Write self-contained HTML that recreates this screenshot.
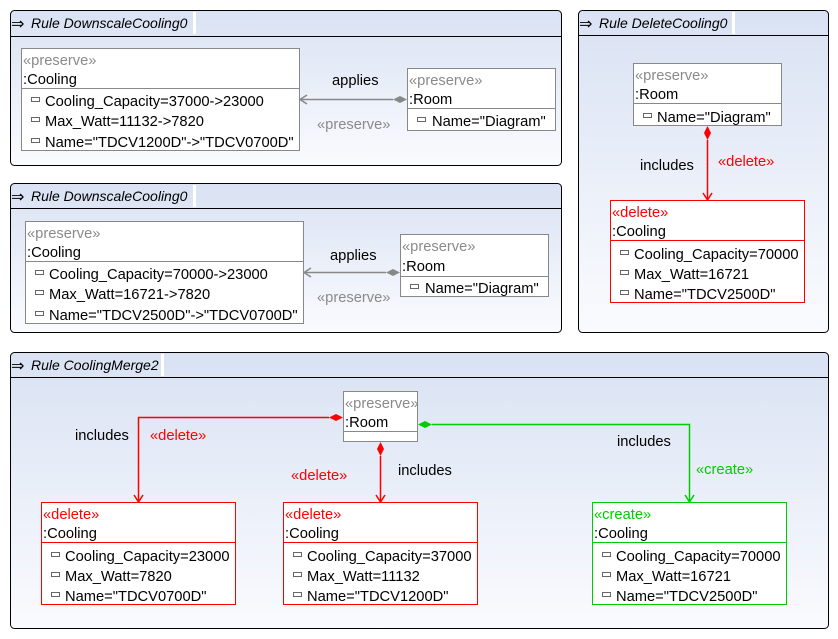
<!DOCTYPE html>
<html><head><meta charset="utf-8"><style>
html,body{margin:0;padding:0;background:#fff;width:838px;height:639px;overflow:hidden}
svg text{font-family:"Liberation Sans","DejaVu Sans",sans-serif;font-size:14.7px}
svg text.ar{font-size:16px}
svg text.t{font-size:14px;font-style:italic}
</style></head><body>
<svg width="838" height="639" viewBox="0 0 838 639" xmlns="http://www.w3.org/2000/svg">
<defs>
<linearGradient id="g" x1="0" y1="0" x2="0" y2="1">
<stop offset="0" stop-color="#d9e2f3"/><stop offset="1" stop-color="#fafbfe"/>
</linearGradient>
</defs>
<g stroke="#000" stroke-width="1">
<rect x="10.5" y="10.5" width="551" height="155" rx="4" fill="url(#g)"/>
<rect x="10.5" y="183.5" width="551" height="149" rx="4" fill="url(#g)"/>
<rect x="578.5" y="10.5" width="250" height="322" rx="4" fill="url(#g)"/>
<rect x="10.5" y="352.5" width="818" height="276" rx="4" fill="url(#g)"/>
<line x1="10" y1="36.5" x2="562" y2="36.5"/>
<line x1="10" y1="208.5" x2="562" y2="208.5"/>
<line x1="578" y1="35.5" x2="829" y2="35.5"/>
<line x1="10" y1="377.5" x2="829" y2="377.5"/>
</g>
<rect x="193" y="12" width="3" height="22" fill="#fff"/>
<rect x="193" y="185" width="3" height="22" fill="#fff"/>
<rect x="732" y="12" width="3" height="22" fill="#fff"/>
<rect x="161" y="354" width="3" height="22" fill="#fff"/>
<g fill="#000">
<text class="ar" x="11" y="29">⇒</text><text class="t" x="31" y="28">Rule DownscaleCooling0</text>
<text class="ar" x="11" y="202">⇒</text><text class="t" x="31" y="201">Rule DownscaleCooling0</text>
<text class="ar" x="579" y="29">⇒</text><text class="t" x="599" y="28">Rule DeleteCooling0</text>
<text class="ar" x="11" y="371">⇒</text><text class="t" x="31" y="370">Rule CoolingMerge2</text>
</g>

<!-- Frame1 -->
<rect x="21.5" y="48.5" width="278" height="102" fill="#fff" stroke="#888"/>
<line x1="21" y1="88.5" x2="300" y2="88.5" stroke="#888"/>
<text x="23" y="65" fill="#8a8a8a">«preserve»</text>
<text x="23" y="84">:Cooling</text>
<g fill="none" stroke="#666"><rect x="31.5" y="97.5" width="8" height="4"/><rect x="31.5" y="117.5" width="8" height="4"/><rect x="31.5" y="138.5" width="8" height="4"/></g>
<text x="45" y="106">Cooling_Capacity=37000-&gt;23000</text>
<text x="45" y="126">Max_Watt=11132-&gt;7820</text>
<text x="45" y="147">Name="TDCV1200D"-&gt;"TDCV0700D"</text>
<rect x="407.5" y="68.5" width="148" height="62" fill="#fff" stroke="#888"/>
<line x1="407" y1="108.5" x2="556" y2="108.5" stroke="#888"/>
<text x="409" y="85" fill="#8a8a8a">«preserve»</text>
<text x="409" y="104">:Room</text>
<rect x="417.5" y="117.5" width="8" height="4" fill="none" stroke="#666"/>
<text x="432" y="126">Name="Diagram"</text>
<line x1="300" y1="99.5" x2="393" y2="99.5" stroke="#888" stroke-width="1.5"/>
<polyline points="307,95 300,99.5 307,104" fill="none" stroke="#888" stroke-width="1.5"/>
<polygon points="393,99.5 400,96 407,99.5 400,103" fill="#888"/>
<text x="332" y="85">applies</text>
<text x="317" y="129" fill="#8a8a8a">«preserve»</text>

<!-- Frame2 -->
<rect x="25.5" y="221.5" width="278" height="102" fill="#fff" stroke="#888"/>
<line x1="25" y1="261.5" x2="304" y2="261.5" stroke="#888"/>
<text x="27" y="238" fill="#8a8a8a">«preserve»</text>
<text x="27" y="257">:Cooling</text>
<g fill="none" stroke="#666"><rect x="35.5" y="270.5" width="8" height="4"/><rect x="35.5" y="290.5" width="8" height="4"/><rect x="35.5" y="311.5" width="8" height="4"/></g>
<text x="49" y="279">Cooling_Capacity=70000-&gt;23000</text>
<text x="49" y="299">Max_Watt=16721-&gt;7820</text>
<text x="49" y="320">Name="TDCV2500D"-&gt;"TDCV0700D"</text>
<rect x="400.5" y="234.5" width="148" height="62" fill="#fff" stroke="#888"/>
<line x1="400" y1="276.5" x2="549" y2="276.5" stroke="#888"/>
<text x="402" y="251" fill="#8a8a8a">«preserve»</text>
<text x="402" y="271">:Room</text>
<rect x="410.5" y="284.5" width="8" height="4" fill="none" stroke="#666"/>
<text x="425" y="293">Name="Diagram"</text>
<line x1="304" y1="272.5" x2="386" y2="272.5" stroke="#888" stroke-width="1.5"/>
<polyline points="311,268 304,272.5 311,277" fill="none" stroke="#888" stroke-width="1.5"/>
<polygon points="386,272.5 393,269 400,272.5 393,276" fill="#888"/>
<text x="330" y="260">applies</text>
<text x="317" y="302" fill="#8a8a8a">«preserve»</text>

<!-- Frame3 -->
<rect x="633.5" y="63.5" width="148" height="62" fill="#fff" stroke="#888"/>
<line x1="633" y1="103.5" x2="782" y2="103.5" stroke="#888"/>
<text x="635" y="80" fill="#8a8a8a">«preserve»</text>
<text x="635" y="99">:Room</text>
<rect x="643.5" y="113.5" width="8" height="4" fill="none" stroke="#666"/>
<text x="657" y="122">Name="Diagram"</text>
<line x1="707.5" y1="140" x2="707.5" y2="200" stroke="#f00" stroke-width="1.5"/>
<polygon points="707.5,126 711,133 707.5,140 704,133" fill="#f00"/>
<polyline points="703,193 707.5,200 712,193" fill="none" stroke="#f00" stroke-width="1.5"/>
<text x="640" y="170">includes</text>
<text x="718" y="166" fill="#f00">«delete»</text>
<rect x="610.5" y="200.5" width="194" height="102" fill="#fff" stroke="#f00"/>
<line x1="610" y1="240.5" x2="805" y2="240.5" stroke="#f00"/>
<text x="612" y="217" fill="#f00">«delete»</text>
<text x="612" y="236">:Cooling</text>
<g fill="none" stroke="#666"><rect x="620.5" y="250.5" width="8" height="4"/><rect x="620.5" y="270.5" width="8" height="4"/><rect x="620.5" y="290.5" width="8" height="4"/></g>
<text x="634" y="259">Cooling_Capacity=70000</text>
<text x="634" y="279">Max_Watt=16721</text>
<text x="634" y="299">Name="TDCV2500D"</text>

<!-- Frame4 -->
<rect x="343.5" y="391.5" width="74" height="50" fill="#fff" stroke="#888"/>
<line x1="343" y1="431.5" x2="418" y2="431.5" stroke="#888"/>
<text x="345" y="408" fill="#8a8a8a">«preserve»</text>
<text x="345" y="427">:Room</text>
<polyline points="329,417.5 138.5,417.5 138.5,502" fill="none" stroke="#f00" stroke-width="1.5"/>
<polygon points="329,417.5 336,414 343,417.5 336,421" fill="#f00"/>
<polyline points="134,495 138.5,502 143,495" fill="none" stroke="#f00" stroke-width="1.5"/>
<line x1="380.5" y1="456" x2="380.5" y2="502" stroke="#f00" stroke-width="1.5"/>
<polygon points="380.5,442 384,449 380.5,456 377,449" fill="#f00"/>
<polyline points="376,495 380.5,502 385,495" fill="none" stroke="#f00" stroke-width="1.5"/>
<polyline points="432,424.5 689.5,424.5 689.5,502" fill="none" stroke="#0c0" stroke-width="1.5"/>
<polygon points="418,424.5 425,421 432,424.5 425,428" fill="#0c0"/>
<polyline points="685,495 689.5,502 694,495" fill="none" stroke="#0c0" stroke-width="1.5"/>
<text x="75" y="440">includes</text>
<text x="150" y="440" fill="#f00">«delete»</text>
<text x="291" y="480" fill="#f00">«delete»</text>
<text x="398" y="475">includes</text>
<text x="617" y="446">includes</text>
<text x="696" y="474" fill="#0c0">«create»</text>

<rect x="41.5" y="502.5" width="194" height="102" fill="#fff" stroke="#f00"/>
<line x1="41" y1="542.5" x2="236" y2="542.5" stroke="#f00"/>
<text x="43" y="519" fill="#f00">«delete»</text>
<text x="43" y="538">:Cooling</text>
<g fill="none" stroke="#666"><rect x="51.5" y="552.5" width="8" height="4"/><rect x="51.5" y="572.5" width="8" height="4"/><rect x="51.5" y="592.5" width="8" height="4"/></g>
<text x="65" y="561">Cooling_Capacity=23000</text>
<text x="65" y="581">Max_Watt=7820</text>
<text x="65" y="601">Name="TDCV0700D"</text>

<rect x="283.5" y="502.5" width="194" height="102" fill="#fff" stroke="#f00"/>
<line x1="283" y1="542.5" x2="478" y2="542.5" stroke="#f00"/>
<text x="285" y="519" fill="#f00">«delete»</text>
<text x="285" y="538">:Cooling</text>
<g fill="none" stroke="#666"><rect x="293.5" y="552.5" width="8" height="4"/><rect x="293.5" y="572.5" width="8" height="4"/><rect x="293.5" y="592.5" width="8" height="4"/></g>
<text x="307" y="561">Cooling_Capacity=37000</text>
<text x="307" y="581">Max_Watt=11132</text>
<text x="307" y="601">Name="TDCV1200D"</text>

<rect x="592.5" y="502.5" width="194" height="102" fill="#fff" stroke="#0c0"/>
<line x1="592" y1="542.5" x2="787" y2="542.5" stroke="#0c0"/>
<text x="594" y="519" fill="#0c0">«create»</text>
<text x="594" y="538">:Cooling</text>
<g fill="none" stroke="#666"><rect x="602.5" y="552.5" width="8" height="4"/><rect x="602.5" y="572.5" width="8" height="4"/><rect x="602.5" y="592.5" width="8" height="4"/></g>
<text x="616" y="561">Cooling_Capacity=70000</text>
<text x="616" y="581">Max_Watt=16721</text>
<text x="616" y="601">Name="TDCV2500D"</text>
</svg>
</body></html>
